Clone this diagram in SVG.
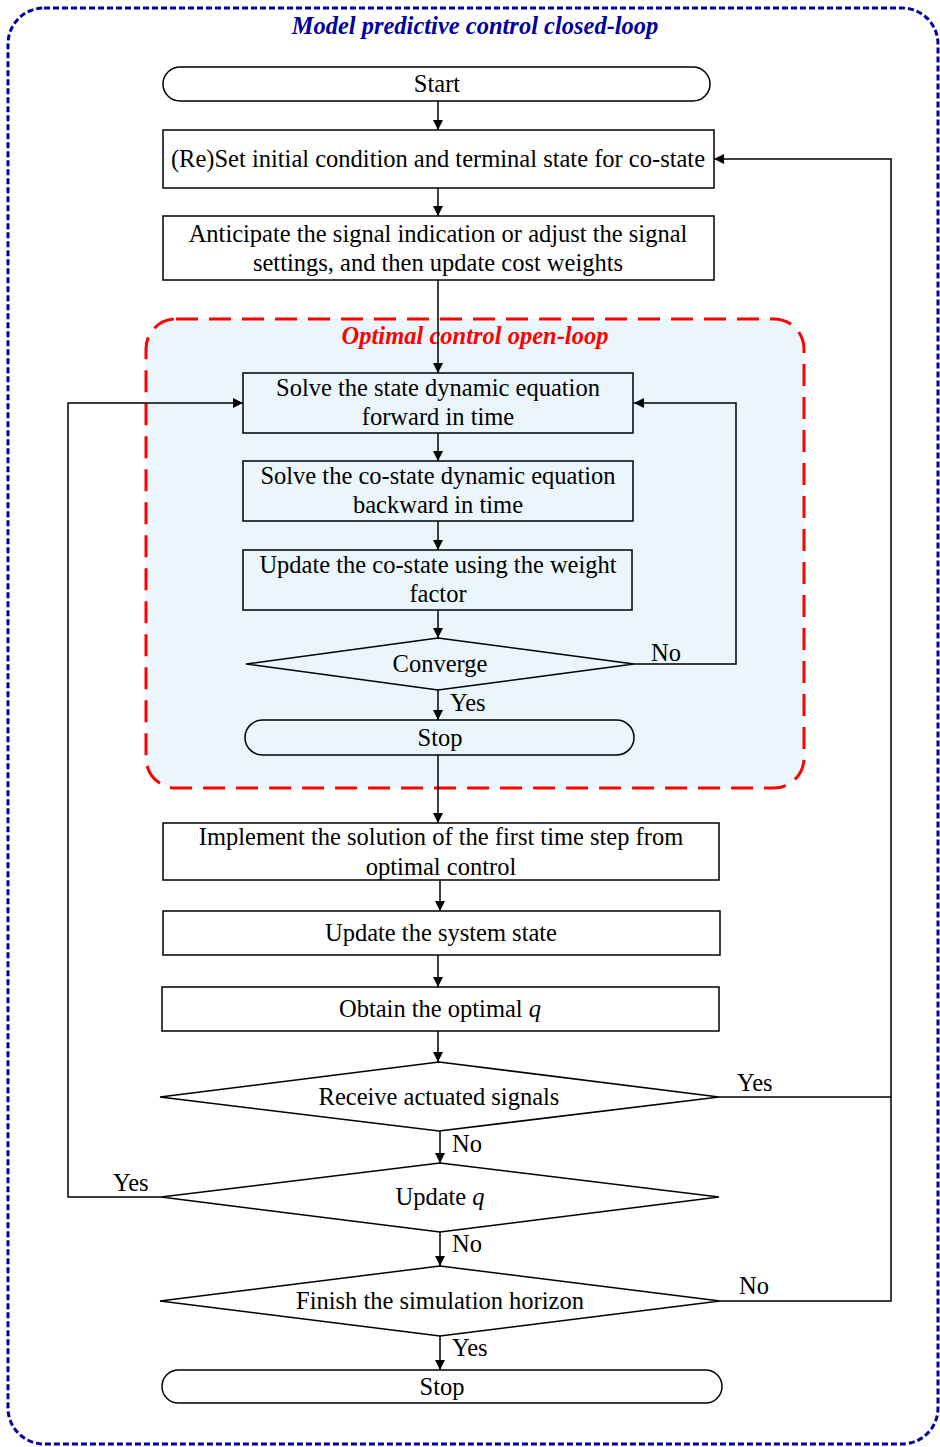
<svg xmlns="http://www.w3.org/2000/svg" width="940" height="1447" viewBox="0 0 940 1447">
  <style>
    .box { fill: #ffffff; stroke: #000; stroke-width: 1.5; }
    .inbox { fill: #eaf6fc; stroke: #000; stroke-width: 1.5; }
    .ln { fill: none; stroke: #000; stroke-width: 1.5; }
    .t { font-family: "Liberation Serif", "Times New Roman", serif; font-size: 24.5px; fill: #000; text-anchor: middle; }
    .lbl { font-family: "Liberation Serif", "Times New Roman", serif; font-size: 24.5px; fill: #000; }
    .ttl { font-family: "Liberation Serif", "Times New Roman", serif; font-size: 24.5px; font-weight: bold; font-style: italic; text-anchor: middle; }
  </style>
  <defs>
    <marker id="arr" viewBox="0 0 10 10" refX="10" refY="5" markerWidth="10" markerHeight="10" markerUnits="userSpaceOnUse" orient="auto">
      <path d="M0,0 L10,5 L0,10 Z" fill="#000"/>
    </marker>
  </defs>

  <rect width="940" height="1447" fill="#fff"/>

  <!-- outer closed-loop frame -->
  <g id="closed-loop-frame">
    <rect x="8" y="8" width="930" height="1436" rx="36" ry="36" fill="none" stroke="#0000a0" stroke-width="3" stroke-dasharray="6,3"/>
    <text class="ttl" x="475" y="34" fill="#0000a0">Model predictive control closed-loop</text>
  </g>

  <!-- inner open-loop frame -->
  <g id="open-loop-frame">
    <rect x="146" y="319" width="658" height="469" rx="30" ry="30" fill="#eaf6fc" stroke="#ff0000" stroke-width="3" stroke-dasharray="22,11"/>
    <text class="ttl" x="475" y="344" fill="#ff0000">Optimal control open-loop</text>
  </g>

  <!-- connectors -->
  <g id="connectors">
    <path class="ln" d="M438,101 V130" marker-end="url(#arr)"/>
    <path class="ln" d="M438,188 V216" marker-end="url(#arr)"/>
    <path class="ln" d="M438,280 V373" marker-end="url(#arr)"/>
    <path class="ln" d="M438,433 V461" marker-end="url(#arr)"/>
    <path class="ln" d="M438,521 V550" marker-end="url(#arr)"/>
    <path class="ln" d="M438,610 V638" marker-end="url(#arr)"/>
    <path class="ln" d="M634,664 H736 V403 H634" marker-end="url(#arr)"/>
    <path class="ln" d="M438,690 V720" marker-end="url(#arr)"/>
    <path class="ln" d="M438,755 V823" marker-end="url(#arr)"/>
    <path class="ln" d="M440,880 V911" marker-end="url(#arr)"/>
    <path class="ln" d="M438,955 V987" marker-end="url(#arr)"/>
    <path class="ln" d="M438,1031 V1062" marker-end="url(#arr)"/>
    <path class="ln" d="M719,1097 H891 V159 H714" marker-end="url(#arr)"/>
    <path class="ln" d="M440,1131 V1163" marker-end="url(#arr)"/>
    <path class="ln" d="M161,1197 H68 V403 H243" marker-end="url(#arr)"/>
    <path class="ln" d="M440,1232 V1266" marker-end="url(#arr)"/>
    <path class="ln" d="M720,1301 H891 V1097"/>
    <path class="ln" d="M440,1336 V1370" marker-end="url(#arr)"/>
    <text class="lbl" x="651" y="661">No</text>
    <text class="lbl" x="450" y="711">Yes</text>
    <text class="lbl" x="737" y="1091">Yes</text>
    <text class="lbl" x="452" y="1152">No</text>
    <text class="lbl" x="113" y="1191">Yes</text>
    <text class="lbl" x="452" y="1252">No</text>
    <text class="lbl" x="739" y="1294">No</text>
    <text class="lbl" x="452" y="1356">Yes</text>
  </g>

  <g id="start">
    <rect class="box" x="163" y="67" width="547" height="34" rx="17" ry="17"/>
    <text class="t" x="437" y="92">Start</text>
  </g>

  <g id="reset">
    <rect class="box" x="163" y="130" width="551" height="58"/>
    <text class="t" x="438" y="167">(Re)Set initial condition and terminal state for co-state</text>
  </g>

  <g id="anticipate">
    <rect class="box" x="163" y="216" width="551" height="64"/>
    <text class="t" x="438" y="242">Anticipate the signal indication or adjust the signal</text>
    <text class="t" x="438" y="271">settings, and then update cost weights</text>
  </g>

  <g id="solve-state">
    <rect class="inbox" x="243" y="373" width="390" height="60"/>
    <text class="t" x="438" y="396">Solve the state dynamic equation</text>
    <text class="t" x="438" y="425">forward in time</text>
  </g>

  <g id="solve-costate">
    <rect class="inbox" x="243" y="461" width="390" height="60"/>
    <text class="t" x="438" y="484">Solve the co-state dynamic equation</text>
    <text class="t" x="438" y="513">backward in time</text>
  </g>

  <g id="update-costate">
    <rect class="inbox" x="243" y="550" width="389" height="60"/>
    <text class="t" x="438" y="573">Update the co-state using the weight</text>
    <text class="t" x="438" y="602">factor</text>
  </g>

  <g id="converge">
    <polygon class="inbox" points="246,664 438,638 634,664 438,690"/>
    <text class="t" x="440" y="672">Converge</text>
  </g>

  <g id="stop-inner">
    <rect class="inbox" x="245" y="720" width="389" height="35" rx="17.5" ry="17.5"/>
    <text class="t" x="440" y="746">Stop</text>
  </g>

  <g id="implement">
    <rect class="box" x="163" y="823" width="556" height="57"/>
    <text class="t" x="441" y="845">Implement the solution of the first time step from</text>
    <text class="t" x="441" y="875">optimal control</text>
  </g>

  <g id="update-system">
    <rect class="box" x="163" y="911" width="557" height="44"/>
    <text class="t" x="441" y="941">Update the system state</text>
  </g>

  <g id="obtain-q">
    <rect class="box" x="162" y="987" width="557" height="44"/>
    <text class="t" x="440" y="1017">Obtain the optimal <tspan font-style="italic">q</tspan></text>
  </g>

  <g id="receive-signals">
    <polygon class="box" points="160,1097 439,1062 719,1097 439,1131"/>
    <text class="t" x="439" y="1105">Receive actuated signals</text>
  </g>

  <g id="update-q">
    <polygon class="box" points="161,1197 440,1163 719,1197 440,1232"/>
    <text class="t" x="440" y="1205">Update <tspan font-style="italic">q</tspan></text>
  </g>

  <g id="finish-horizon">
    <polygon class="box" points="160,1301 440,1266 720,1301 440,1336"/>
    <text class="t" x="440" y="1309">Finish the simulation horizon</text>
  </g>

  <g id="stop-outer">
    <rect class="box" x="162" y="1370" width="560" height="33" rx="16.5" ry="16.5"/>
    <text class="t" x="442" y="1395">Stop</text>
  </g>
</svg>
